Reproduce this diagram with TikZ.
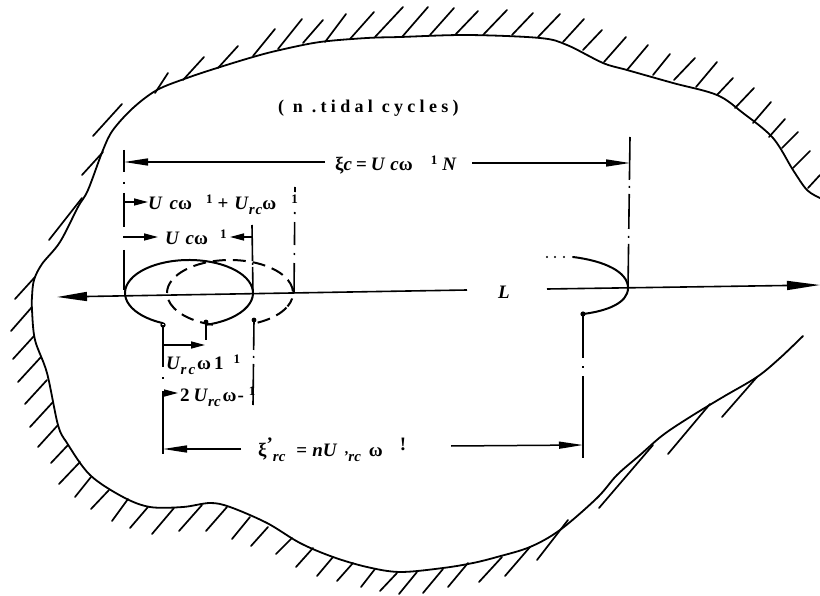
\documentclass[tikz,border=0pt]{standalone}
\usepackage{fontspec}
\setmainfont{Liberation Serif}
\usetikzlibrary{arrows.meta}
\newcommand{\lowtxt}[1]{\raisebox{-4.5pt}{\fontsize{15}{15}\selectfont\textit{#1}}}
\newcommand{\hightxt}[1]{\raisebox{6pt}{\fontsize{13}{13}\selectfont #1}}
\tikzset{
  coast/.style={line width=1.8pt,line cap=round,line join=round},
  hatch/.style={line width=1.7pt,line cap=round},
  oval/.style={line width=2pt},
  dimline/.style={line width=1.5pt,-{Stealth[inset=0pt,length=24pt,width=7pt]}},
  shortdim/.style={line width=1.5pt,-{Stealth[inset=0pt,length=14pt,width=7pt]}},
  axisline/.style={line width=1.6pt},
  guide/.style={line width=1.6pt},
  lab/.style={inner sep=0pt,anchor=west,font=\fontsize{19}{19}\bfseries\selectfont}
}
\begin{document}
\begin{tikzpicture}[x=1pt,y=-1pt]
  \useasboundingbox (0,0) rectangle (820,596);
  % shore line
  \draw[coast] plot[smooth,tension=0.55] coordinates {(820,198) (807,190) (793,170) (773,138) (743,113) (717,95) (673,83)
    (627,70) (603,63) (567,45) (540,38) (467,35) (400,37) (367,38) (320,42) (280,50) (253,57) (217,68) (187,78)
    (157,90) (133,108) (113,130) (103,150) (88,190) (78,207) (60,242) (42,264) (34,280) (32,297) (32,310) (35,340) (47,373)
    (58,425) (67,443) (90,475) (123,497) (150,507) (183,507) (210,503) (230,507) (267,523) (300,543) (333,557)
    (367,567) (400,572) (443,568) (473,563) (497,557) (530,547) (560,530) (597,498) (617,475) (640,455) (663,435)
    (690,417) (723,397) (757,377) (780,358) (803,336)};
  % hatching, upper side
  \foreach \xa/\ya/\xb/\yb in {93/136/122/104,82/175/103/152,155/93/168/73,183/80/204/57,218/68/238/46,253/56/275/29,
    278/49/302/19,303/43/323/20,325/42/346/14,350/39/374/12,375/37/403/7,402/37/428/7,430/35/454/8,455/35/478/11,
    483/35/507/10,512/35/533/13,538/37/560/14,563/42/584/19,583/50/602/30,604/62/626/37,627/70/648/45,653/75/670/54,
    674/80/695/58,696/87/717/62,717/95/733/78,735/108/754/88,753/123/771/102,769/137/785/119,782/148/798/132,
    793/168/810/151,808/188/820/175}
    \draw[hatch] (\xa,\ya) -- (\xb,\yb);
  % hatching, lower side
  \foreach \xa/\ya/\xb/\yb in {82/198/49/240,35/277/15/299,32/307/11/331,34/336/13/359,41/357/18/382,47/380/25/404,
    53/402/30/427,58/425/38/447,68/445/51/463,80/462/59/484,91/477/75/497,109/490/91/509,128/499/112/521,148/507/130/528,
    174/508/152/534,202/505/179/531,227/507/206/531,250/517/232/539,268/527/251/546,292/538/276/554,313/548/296/567,
    333/557/317/576,353/563/337/581,375/569/361/587,397/573/380/591,417/572/399/594,443/569/423/593,468/563/448/587,
    502/557/479/582,530/547/505/576,568/520/537/560,653/445/599/508,710/404/668/454,757/377/722/417}
    \draw[hatch] (\xa,\ya) -- (\xb,\yb);
  % named points
  \coordinate (axisL) at (57,297);
  \coordinate (axisM) at (467,290);
  \coordinate (axisN) at (547,289);
  \coordinate (axisR) at (820,285);
  \coordinate (topL) at (124,150);
  \coordinate (footL) at (124,293);
  \coordinate (topR) at (630,137);
  \coordinate (footR) at (628,288);
  \coordinate (midA) at (252,225);
  \coordinate (footA) at (253,293);
  \coordinate (midB) at (295,187);
  \coordinate (footB) at (294,293);
  \coordinate (startA) at (163,325);
  \coordinate (startB) at (206,322);
  \coordinate (startC) at (254,320);
  \coordinate (startD) at (583,314);
  \coordinate (endA) at (163,454);
  \coordinate (endB) at (206,340);
  \coordinate (endC) at (253,405);
  \coordinate (endD) at (583,458);
  % centre line
  \draw[axisline,-{Stealth[inset=0pt,length=30pt,width=9pt]}] (axisM) -- (axisL);
  \draw[axisline,-{Stealth[inset=0pt,length=33pt,width=9pt]}] (axisN) -- (axisR);
  % ovals
  \draw[oval] (189,293) ++(114:64 and 33) arc[start angle=114,end angle=435,x radius=64,y radius=33];
  \draw[oval,dash pattern=on 13pt off 7pt] (230,293) ++(180:63 and 33) arc[start angle=180,end angle=384,x radius=63,y radius=33];
  \draw[oval,dash pattern=on 13pt off 7pt] (230,293) ++(168:63 and 33) arc[start angle=168,end angle=105,x radius=63,y radius=33];
  \draw[oval,dash pattern=on 13pt off 7pt] (230,293) ++(64:63 and 33) arc[start angle=64,end angle=24,x radius=63,y radius=33];
  \draw[oval,line cap=round] (573,257) .. controls (605,261) and (628,272) .. (628,288)
    .. controls (628,303) and (607,311) .. (583,314);
  \fill (547,257) circle (1.2pt) (555,257) circle (1.2pt) (564,257) circle (1.2pt);
  \fill (startD) circle (2.6pt) (startB) circle (2.4pt) (startC) circle (2.4pt);
  \draw[line width=1.2pt] (startA) circle (2pt);
  % guide lines
  \draw[guide,dash pattern=on 22pt off 10pt on 2pt off 9pt on 34pt off 9pt on 2pt off 12pt on 40pt] (topL) -- (footL);
  \draw[guide,dash pattern=on 43pt off 6pt on 2pt off 6pt on 35pt off 7pt on 2pt off 6pt on 45pt] (topR) -- (footR);
  \draw[guide,dash pattern=on 36pt off 2pt on 2pt off 2pt on 30pt] (midA) -- (footA);
  \draw[guide,dash pattern=on 30pt off 8pt on 2pt off 8pt on 23pt off 8pt on 2pt off 20pt] (footB) -- (midB);
  \draw[guide,dash pattern=on 42pt off 10pt on 2pt off 12pt on 70pt] (startA) -- (endA);
  \draw[guide] (startB) -- (endB);
  \draw[guide,dash pattern=on 30pt off 6pt on 2pt off 6pt on 42pt] (startC) -- (endC);
  \draw[guide,dash pattern=on 44pt off 8pt on 2pt off 8pt on 90pt] (startD) -- (endD);
  % labels
  \node[lab,font=\fontsize{18}{18}\bfseries\selectfont\addfontfeature{LetterSpace=24}] (tide) at (278,108) {( n .tidal cycles)};
  \node[lab] (xic) at (335,165) {ξ\textit{c}\hspace{4pt}=\hspace{4pt}\textit{U}\hspace{5pt}\textit{c}ω\hspace{18pt}\hightxt{1}\hspace{5pt}\textit{N}};
  \node[lab] (ucw) at (148,205) {\textit{U}\hspace{7pt}\textit{c}ω\hspace{14pt}\hightxt{1}\hspace{5pt}+\hspace{6pt}\textit{U}\lowtxt{r\hspace{1pt}c}ω\hspace{15pt}\hightxt{1}};
  \node[lab] (ucwb) at (165,237) {\textit{U}\hspace{6pt}\textit{c}ω\hspace{12pt}\hightxt{1}};
  \node[lab] (urc) at (166,365) {\textit{U}\lowtxt{r\hspace{2pt}c}\hspace{2pt}ω\hspace{3pt}1\hspace{10pt}\hightxt{1}};
  \node[lab] (twourc) at (180,397) {2\hspace{4pt}\textit{U}\lowtxt{rc}\hspace{2pt}ω\hspace{1pt}-\hspace{5pt}\hightxt{1}};
  \node[lab] (lenL) at (498,292) {\textit{L}};
  \node[lab] (xirc) at (258,450) {ξ\raisebox{6pt}{'}\lowtxt{rc}\hspace{11pt}=\hspace{5pt}\textit{nU}\hspace{6pt}\lowtxt{'rc}\hspace{8pt}ω\hspace{17pt}\raisebox{6pt}{!}};
  % dimension arrows
  \coordinate (dimA) at (325,162);
  \coordinate (dimAL) at (124,162);
  \coordinate (dimB) at (472,163);
  \coordinate (dimBR) at (630,163);
  \coordinate (dimC) at (124,202);
  \coordinate (dimCR) at (148,202);
  \coordinate (dimD) at (124,237);
  \coordinate (dimDR) at (158,237);
  \coordinate (dimE) at (253,237);
  \coordinate (dimEL) at (230,237);
  \coordinate (dimF) at (163,345);
  \coordinate (dimFR) at (205,345);
  \coordinate (dimG) at (163,393);
  \coordinate (dimGR) at (178,393);
  \coordinate (dimH) at (163,449);
  \coordinate (dimI) at (241,449);
  \coordinate (dimJ) at (451,446);
  \coordinate (dimJR) at (583,445);
  \draw[dimline] (dimA) -- (dimAL);
  \draw[dimline] (dimB) -- (dimBR);
  \draw[shortdim] (dimC) -- (dimCR);
  \draw[shortdim] (dimD) -- (dimDR);
  \draw[shortdim] (dimE) -- (dimEL);
  \draw[shortdim] (dimF) -- (dimFR);
  \draw[shortdim] (dimG) -- (dimGR);
  \draw[dimline] (dimI) -- (dimH);
  \draw[dimline] (dimJ) -- (dimJR);
\end{tikzpicture}
\end{document}
